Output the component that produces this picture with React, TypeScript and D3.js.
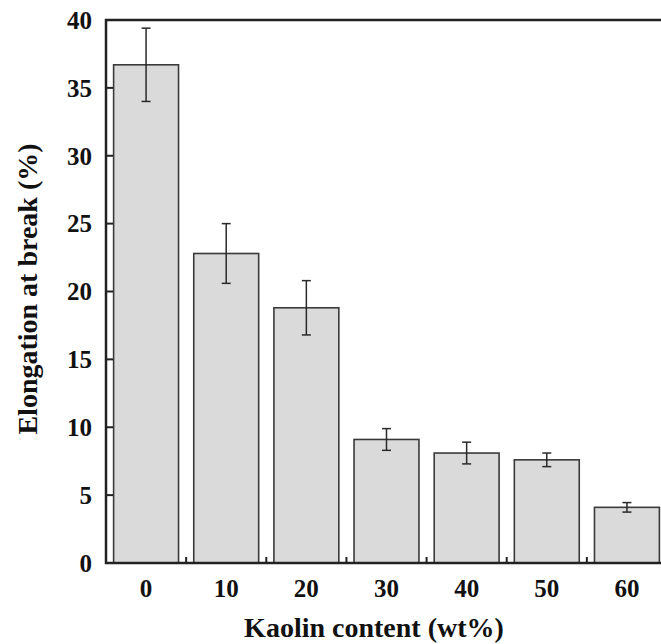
import React from 'react';
import * as d3 from 'd3';

// ====

const categories = ['0', '10', '20', '30', '40', '50', '60'];
const elongation = [36.7, 22.8, 18.8, 9.1, 8.1, 7.6, 4.1];
const errors = [2.7, 2.2, 2.0, 0.8, 0.8, 0.5, 0.35];
const yTicks = [0, 5, 10, 15, 20, 25, 30, 35, 40];

const FONT = '"Liberation Serif", "Times New Roman", serif';

class App extends React.Component {
    node: SVGSVGElement | null = null;

    constructor(props: any) {
        super(props);
        this.createChart = this.createChart.bind(this);
    }

    createChart() {
        const svg = d3.select(this.node);
        svg.selectAll('*').remove();

        const left = 106;
        const right = 667;
        const top = 20;
        const bottom = 563;

        const x = d3.scaleBand().domain(categories).range([left, right]).paddingInner(0.19).paddingOuter(0.095);
        const xStep = d3.scaleBand().domain(categories).range([left, right]);
        const y = d3.scaleLinear().domain([0, 40]).range([bottom, top]);

        const data = categories.map((c, i) => ({ c, v: elongation[i], e: errors[i] }));

        // bars
        svg.append('g')
            .selectAll('rect')
            .data(data)
            .enter()
            .append('rect')
            .attr('x', (d) => x(d.c)!)
            .attr('y', (d) => y(d.v))
            .attr('width', x.bandwidth())
            .attr('height', (d) => bottom - y(d.v))
            .attr('fill', '#dadada')
            .attr('stroke', '#3a3a3a')
            .attr('stroke-width', 1.6);

        // error bars
        const eb = svg.append('g')
            .selectAll('g')
            .data(data)
            .enter()
            .append('g')
            .attr('stroke', '#2a2a2a')
            .attr('stroke-width', 1.5);
        const cx = (d: any) => x(d.c)! + x.bandwidth() / 2;
        eb.append('line')
            .attr('x1', cx).attr('x2', cx)
            .attr('y1', (d) => y(d.v + d.e)).attr('y2', (d) => y(d.v - d.e));
        eb.append('line')
            .attr('x1', (d) => cx(d) - 4.5).attr('x2', (d) => cx(d) + 4.5)
            .attr('y1', (d) => y(d.v + d.e)).attr('y2', (d) => y(d.v + d.e));
        eb.append('line')
            .attr('x1', (d) => cx(d) - 4.5).attr('x2', (d) => cx(d) + 4.5)
            .attr('y1', (d) => y(d.v - d.e)).attr('y2', (d) => y(d.v - d.e));

        // frame
        svg.append('rect')
            .attr('x', left).attr('y', top)
            .attr('width', right - left).attr('height', bottom - top)
            .attr('fill', 'none')
            .attr('stroke', '#222')
            .attr('stroke-width', 2.5);

        // y ticks (inward)
        svg.append('g')
            .selectAll('line')
            .data(yTicks.slice(1, -1))
            .enter()
            .append('line')
            .attr('x1', left).attr('x2', left + 7)
            .attr('y1', (d) => y(d)).attr('y2', (d) => y(d))
            .attr('stroke', '#222').attr('stroke-width', 2);

        svg.append('g')
            .selectAll('text')
            .data(yTicks)
            .enter()
            .append('text')
            .attr('x', 92)
            .attr('y', (d) => y(d))
            .attr('dy', '0.35em')
            .attr('text-anchor', 'end')
            .attr('font-family', FONT)
            .attr('font-weight', 'bold')
            .attr('font-size', 25)
            .attr('fill', '#111')
            .text((d) => d);

        // x minor ticks between categories
        svg.append('g')
            .selectAll('line')
            .data(categories.slice(1))
            .enter()
            .append('line')
            .attr('x1', (d) => xStep(d)!).attr('x2', (d) => xStep(d)!)
            .attr('y1', bottom).attr('y2', bottom - 6)
            .attr('stroke', '#222').attr('stroke-width', 2);

        svg.append('g')
            .selectAll('text')
            .data(categories)
            .enter()
            .append('text')
            .attr('x', (d) => xStep(d)! + xStep.bandwidth() / 2)
            .attr('y', 597)
            .attr('text-anchor', 'middle')
            .attr('font-family', FONT)
            .attr('font-weight', 'bold')
            .attr('font-size', 25)
            .attr('fill', '#111')
            .text((d) => d);

        // axis titles
        svg.append('text')
            .attr('x', 374)
            .attr('y', 637)
            .attr('text-anchor', 'middle')
            .attr('font-family', FONT)
            .attr('font-weight', 'bold')
            .attr('font-size', 28)
            .attr('fill', '#111')
            .text('Kaolin content (wt%)');

        svg.append('text')
            .attr('transform', 'translate(37,289) rotate(-90)')
            .attr('text-anchor', 'middle')
            .attr('font-family', FONT)
            .attr('font-weight', 'bold')
            .attr('font-size', 28)
            .attr('fill', '#111')
            .text('Elongation at break (%)');
    }

    componentDidMount() {
        this.createChart();
    }

    componentDidUpdate() {
        this.createChart();
    }

    render() {
        return (
            <svg
                ref={(node) => { this.node = node; }}
                width={661}
                height={644}
                style={{ position: 'absolute', left: 0, top: 0, background: '#fff' }}>
            </svg>
        );
    }
}

// ====

export default App;
